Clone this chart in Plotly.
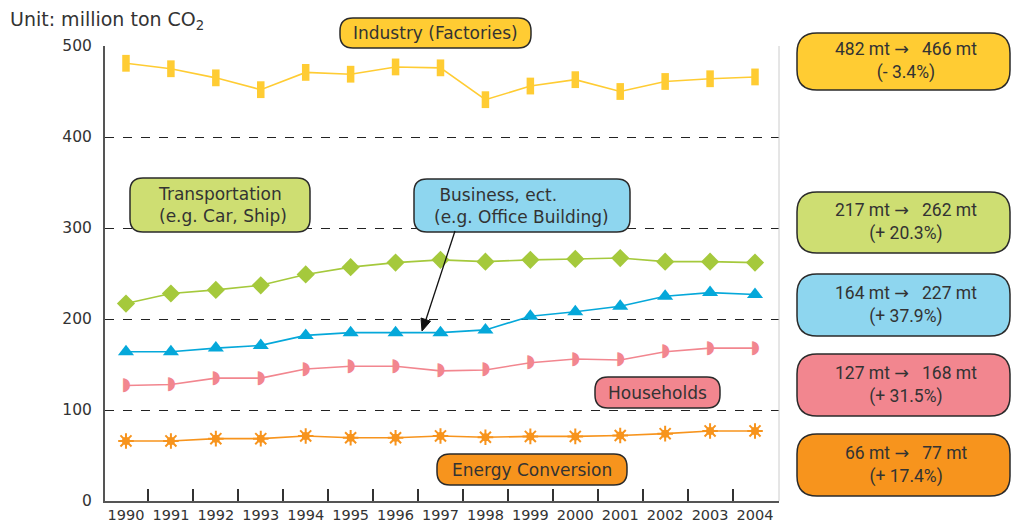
import plotly.graph_objects as go

years = list(range(1990, 2005))
industry = [481, 475, 465, 452, 471, 469, 477, 476, 441, 456, 463, 450, 461, 464, 466]
transport = [217, 228, 232, 237, 249, 257, 262, 265, 263, 265, 266, 267, 263, 263, 262]
business = [164, 164, 168, 171, 182, 185, 185, 185, 188, 203, 208, 214, 225, 229, 227]
households = [127, 128, 135, 135, 145, 148, 148, 143, 144, 152, 156, 155, 164, 168, 168]
energy = [66, 66, 68.5, 68.5, 71.5, 69.5, 69.5, 71.5, 70, 71, 71, 72, 74, 77, 77]
y_ticks = [0, 100, 200, 300, 400, 500]

ARW = "<span style=\"font-family:'DejaVu Sans'\">→</span>"
summaries = [
    ("482 mt " + ARW + "\u00a0\u00a0 466 mt", "(- 3.4%)"),
    ("217 mt " + ARW + "\u00a0\u00a0 262 mt", "(+ 20.3%)"),
    ("164 mt " + ARW + "\u00a0\u00a0 227 mt", "(+ 37.9%)"),
    ("127 mt " + ARW + "\u00a0\u00a0 168 mt", "(+ 31.5%)"),
    ("66 mt " + ARW + "\u00a0\u00a0 77 mt", "(+ 17.4%)"),
]

YEL = "#FFCC33"
GRN_L = "#A5C93C"
GRN_B = "#CEDE72"
BLU_L = "#05A8DA"
BLU_B = "#8ED6EF"
PNK = "#F2868F"
ORG = "#F7941D"
TXT = "#333333"

W, H = 1011, 526
L, R, T, B = 105, 779, 46, 501
pw, ph = R - L, B - T


def px(x):
    return (x - L) / pw


def py(y):
    return (B - y) / ph


def P(x, y):
    return f"{px(x):.5f},{py(y):.5f}"


def rrect(x0, y0, x1, y1, r):
    return (f"M {P(x0 + r, y0)} L {P(x1 - r, y0)} Q {P(x1, y0)} {P(x1, y0 + r)} "
            f"L {P(x1, y1 - r)} Q {P(x1, y1)} {P(x1 - r, y1)} "
            f"L {P(x0 + r, y1)} Q {P(x0, y1)} {P(x0, y1 - r)} "
            f"L {P(x0, y0 + r)} Q {P(x0, y0)} {P(x0 + r, y0)} Z")


fig = go.Figure()

fig.add_trace(go.Scatter(x=years, y=industry, mode="lines+markers",
                         line=dict(color=YEL, width=1.6),
                         marker=dict(symbol="line-ns", size=12, color=YEL,
                                     line=dict(color=YEL, width=7.5))))
fig.add_trace(go.Scatter(x=years, y=transport, mode="lines+markers",
                         line=dict(color=GRN_L, width=1.6),
                         marker=dict(symbol="diamond", size=14, color=GRN_L)))
fig.add_trace(go.Scatter(x=years, y=business, mode="lines+markers",
                         line=dict(color=BLU_L, width=1.6),
                         marker=dict(symbol="triangle-up", size=14, color=BLU_L)))
fig.add_trace(go.Scatter(x=years, y=households, mode="lines+text",
                         line=dict(color=PNK, width=1.6),
                         text=["◗"] * len(years), textposition="middle center",
                         textfont=dict(family="DejaVu Sans", size=18, color=PNK)))
fig.add_trace(go.Scatter(x=years, y=energy, mode="lines+markers",
                         line=dict(color=ORG, width=1.6),
                         marker=dict(symbol="circle", size=8, color=ORG)))
fig.add_trace(go.Scatter(x=years, y=energy, mode="markers",
                         marker=dict(symbol="asterisk-open", size=13, color=ORG,
                                     line=dict(color=ORG, width=2))))

shapes = []
annotations = []
LF = "DejaVu Sans"

labels = [
    ((340, 18, 531, 48), YEL, "Industry (Factories)", "center", None),
    ((130, 178, 310, 232), GRN_B, "Transportation<br>(e.g. Car, Ship)", "left", 156),
    ((414, 179, 630, 232), BLU_B, "\u00a0Business, ect.<br>(e.g. Office Building)", "left", 432),
    ((595, 377, 720, 408), PNK, "Households", "center", None),
    ((437, 454, 627, 485), ORG, "Energy Conversion", "center", None),
]
for (x0, y0, x1, y1), col, txt, al, lx in labels:
    shapes.append(dict(type="path", path=rrect(x0, y0, x1, y1, 13), xref="paper", yref="paper",
                       fillcolor=col, line=dict(color="#2a2a2a", width=1.5), layer="above"))
    annotations.append(dict(x=px(lx if lx else (x0 + x1) / 2), y=py((y0 + y1) / 2),
                            xref="paper", yref="paper",
                            xanchor="left" if lx else "center", yanchor="middle",
                            text=txt, showarrow=False, align=al,
                            font=dict(family=LF, size=17, color=TXT)))

right_boxes = [(33, 90, YEL), (192, 253, GRN_B), (274, 336, BLU_B), (354, 416, PNK), (434, 496, ORG)]
for (y0, y1, col), (l1, l2) in zip(right_boxes, summaries):
    shapes.append(dict(type="path", path=rrect(797, y0, 1010, y1, 20), xref="paper", yref="paper",
                       fillcolor=col, line=dict(color="#2a2a2a", width=1.5), layer="above"))
    annotations.append(dict(x=px(906), y=py((y0 + y1) / 2), xref="paper", yref="paper",
                            xanchor="center", yanchor="middle",
                            text=l1 + "<br>" + l2, showarrow=False, align="center",
                            font=dict(family="Roboto", size=17.5, color=TXT)))

# right border
shapes.append(dict(type="line", xref="paper", yref="paper", x0=1, x1=1, y0=0, y1=1,
                   line=dict(color="#cccccc", width=1)))

# arrow from business label to the business line
shapes.append(dict(type="line", xref="paper", yref="paper",
                   x0=px(455), y0=py(231), x1=px(425.5), y1=py(321),
                   line=dict(color="#111111", width=1.3)))
shapes.append(dict(type="path", xref="paper", yref="paper",
                   path=f"M {P(422, 331)} L {P(430.5, 321.2)} L {P(421.0, 318.0)} Z",
                   fillcolor="#111111", line=dict(color="#111111", width=1)))

annotations.append(dict(x=px(8), y=py(6), xref="paper", yref="paper",
                        xanchor="left", yanchor="top", showarrow=False,
                        text="Unit: million ton CO<sub>2</sub>",
                        font=dict(family=LF, size=19, color=TXT)))

fig.update_layout(
    width=W, height=H,
    margin=dict(l=L, r=W - R, t=T, b=H - B, autoexpand=False),
    paper_bgcolor="white", plot_bgcolor="white",
    showlegend=False,
    shapes=shapes, annotations=annotations,
    xaxis=dict(range=[1989.533, 2004.534], tickvals=years, ticktext=[str(y) for y in years],
               ticks="", showgrid=False, zeroline=False, automargin=False,
               showline=True, linecolor="#555555", linewidth=2,
               tickfont=dict(family=LF, size=14.5, color=TXT),
               minor=dict(tickvals=[y + 0.5 for y in years[:-1]], ticks="inside", ticklen=12,
                          tickcolor="#333333", tickwidth=1.5, showgrid=False)),
    yaxis=dict(range=[0, 500], tickvals=y_ticks, showgrid=True, gridcolor="#222222",
               griddash="dash", gridwidth=1, zeroline=False, automargin=False,
               showline=True, linecolor="#555555", linewidth=2, ticks="",
               ticklabelstandoff=8,
               tickfont=dict(family=LF, size=15.5, color=TXT)),
)

fig.write_html("out.html", post_script="document.body.style.margin='0';",
               config={"displayModeBar": False})
